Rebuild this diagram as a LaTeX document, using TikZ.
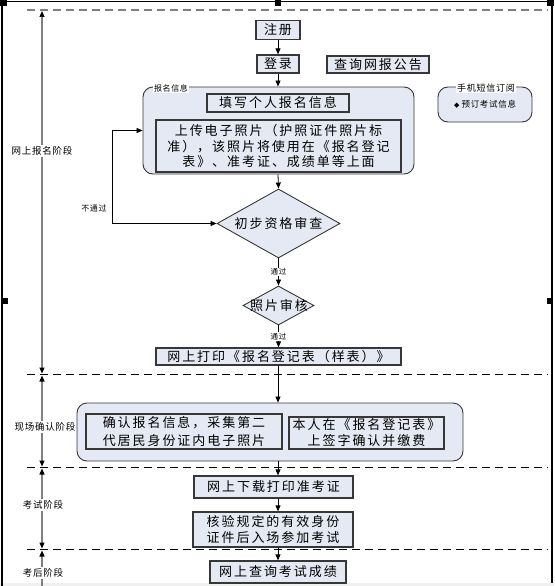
\documentclass[tikz,border=0pt]{standalone}
\usepackage{fontspec}
\usetikzlibrary{arrows.meta,shapes.geometric}
\newfontfamily\cjk{Noto Sans CJK SC}[LetterSpace=15]
\newfontfamily\cjksmall{Noto Sans CJK SC}[LetterSpace=8]
\definecolor{boxfill}{RGB}{228,233,243}
\definecolor{boxline}{RGB}{55,55,55}
\definecolor{stagegray}{RGB}{128,128,128}
\definecolor{stripgray}{RGB}{240,240,240}
\newcommand\mainfs{\cjk\fontsize{13}{15.5}\selectfont}
\newcommand\smallfs{\cjksmall\fontsize{8}{9}\selectfont}
\newcommand\stagefs{\cjksmall\fontsize{9.5}{11}\selectfont}
\tikzset{
  stepbox/.style={draw=boxline, line width=1.3pt, fill=boxfill, inner sep=0pt, align=center, font=\mainfs},
  groupbox/.style={draw=boxline, line width=0.9pt, fill=boxfill, rounded corners=10pt, inner sep=0pt},
  decision/.style={diamond, draw=boxline, line width=0.9pt, fill=boxfill, inner sep=0pt, font=\mainfs},
  tip/.style={-{Triangle[length=6pt,width=5pt]}},
  flow/.style={draw=black, line width=0.8pt, tip},
  tag/.style={fill=white, inner sep=1pt, font=\smallfs},
  stagelbl/.style={fill=white, inner sep=1.5pt, font=\stagefs},
  sep/.style={draw=black, line width=1pt, dash pattern=on 8pt off 5pt},
  stagearrow/.style={draw=stagegray, line width=1.1pt},
}
\begin{document}
\begin{tikzpicture}[x=1pt,y=-1pt]
\useasboundingbox (0,0) rectangle (554,586);
% frame
\fill[stripgray] (0,583) rectangle (554,586);
\draw[black, line width=1.2pt] (2,586) -- (2,1.5) -- (552,1.5) -- (552,583);
\fill[black] (0,0) rectangle (7,6);
\fill[black] (275,0) rectangle (281,6);
\fill[black] (547,0) rectangle (554,6);
\fill[black] (2,298) rectangle (8,304);
\fill[black] (547,298) rectangle (553,304);
% separators
\draw[sep, draw=stagegray, line width=1.5pt] (27,10) -- (548,10);
\draw[sep] (27,374.5) -- (548,374.5);
\draw[sep] (27,467.5) -- (548,467.5);
\draw[sep] (27,549.5) -- (548,549.5);
% stage arrows
\draw[stagearrow, {Triangle[black,length=6pt,width=5pt]}-{Triangle[black,length=6pt,width=5pt]}] (42,11) -- (42,373.5);
\draw[stagearrow, {Triangle[black,length=6pt,width=5pt]}-{Triangle[black,length=6pt,width=5pt]}] (42,375.5) -- (42,466.5);
\draw[stagearrow, {Triangle[black,length=6pt,width=5pt]}-{Triangle[black,length=6pt,width=5pt]}] (42,468.5) -- (42,548.5);
\draw[stagearrow, {Triangle[black,length=6pt,width=5pt]}-] (42,550.5) -- (42,586);
\node[stagelbl] (s1) at (42,151) {网上报名阶段};
\node[stagelbl, inner xsep=5pt] (s2) at (45,427) {现场确认阶段};
\node[stagelbl] (s3) at (43,505) {考试阶段};
\node[stagelbl] (s4) at (43,573) {考后阶段};
% groups
\node[groupbox, minimum width=271pt, minimum height=87pt] (g1) at (278.5,130.5) {};
\node[tag] (g1l) at (171,88) {报名信息};
\node[groupbox, minimum width=94pt, minimum height=35pt] (sms) at (485,104.5) {};
\node[tag, font=\cjksmall\fontsize{9}{10}\selectfont] (smsl) at (486,88) {手机短信订阅};
\node[inner sep=0pt] (smsi) at (485,104) {\fontspec{DejaVu Sans}\fontsize{7}{8}\selectfont ◆\ \cjksmall\fontsize{8.5}{10}\selectfont 预订考试信息};
\node[groupbox, minimum width=386pt, minimum height=58pt] (g2) at (270,432) {};
% steps
\node[stepbox, minimum width=44pt, minimum height=19pt] (reg) at (278,30) {注册};
\node[stepbox, minimum width=42pt, minimum height=18pt] (login) at (278,64) {登录};
\node[stepbox, minimum width=102pt, minimum height=17pt] (query) at (378,64.5) {查询网报公告};
\node[stepbox, minimum width=142pt, minimum height=18pt] (fill) at (278,103) {填写个人报名信息};
\node[stepbox, minimum width=245pt, minimum height=52pt] (upload) at (278.5,146) {上传电子照片（护照证件照片标\\准），该照片将使用在《报名登记\\表》、准考证、成绩单等上面};
\node[decision, minimum width=123pt, minimum height=69pt] (d1) at (278.5,223.5) {};
\node[font=\mainfs, inner sep=0pt] (d1t) at (278.5,223.5) {初步资格审查};
\node[decision, minimum width=71pt, minimum height=39pt] (d2) at (278.5,305.5) {};
\node[font=\mainfs, inner sep=0pt] (d2t) at (279,305.5) {照片审核};
\node[stepbox, minimum width=245pt, minimum height=17pt] (print) at (278.5,356.5) {网上打印《报名登记表（样表）》};
\node[stepbox, minimum width=196pt, minimum height=35pt, font=\cjk\fontsize{13}{18}\selectfont] (confirm) at (184,431.5) {确认报名信息，采集第二\\代居民身份证内电子照片};
\node[stepbox, minimum width=155pt, minimum height=32pt, font=\cjk\fontsize{13}{16}\selectfont] (sign) at (366.5,433) {本人在《报名登记表》\\上签字确认并缴费};
\node[stepbox, minimum width=159pt, minimum height=22pt] (download) at (273.5,487) {网上下载打印准考证};
\node[stepbox, minimum width=160pt, minimum height=35pt, font=\cjk\fontsize{13}{16}\selectfont] (verify) at (273,529.5) {核验规定的有效身份\\证件后入场参加考试};
\node[stepbox, minimum width=136pt, minimum height=22pt] (result) at (278,572) {网上查询考试成绩};
% flow
\coordinate (col) at (278,0);
\draw[flow] (reg) -- (login);
\draw[flow] (login) -- (g1.north -| login);
\draw[flow] (g1.south -| col) -- (d1.north);
\draw[flow] (d1.south) -- node[tag, font=\cjksmall\fontsize{7.5}{8}\selectfont] (t1) {通过} (d2.north);
\draw[flow] (d2.south) -- node[tag, font=\cjksmall\fontsize{7.5}{8}\selectfont] (t2) {通过} (print.north -| d2.south);
\draw[flow] (print.south -| col) -- (g2.north -| col);
\draw[flow] (g2.south -| col) -- (download.north -| col);
\draw[flow] (download.south -| col) -- (verify.north -| col);
\draw[flow] (verify.south -| col) -- (result.north -| col);
\coordinate (lp) at (112,223.5);
\draw[draw=black, line width=0.8pt, {Triangle[length=6pt,width=5pt]}-{Triangle[length=6pt,width=5pt]}] (d1.west) -- (lp) |- (g1.west);
\node[font=\cjksmall\fontsize{8}{9}\selectfont, inner sep=0pt] (fail) at (94,208) {不通过};
\end{tikzpicture}
\end{document}
